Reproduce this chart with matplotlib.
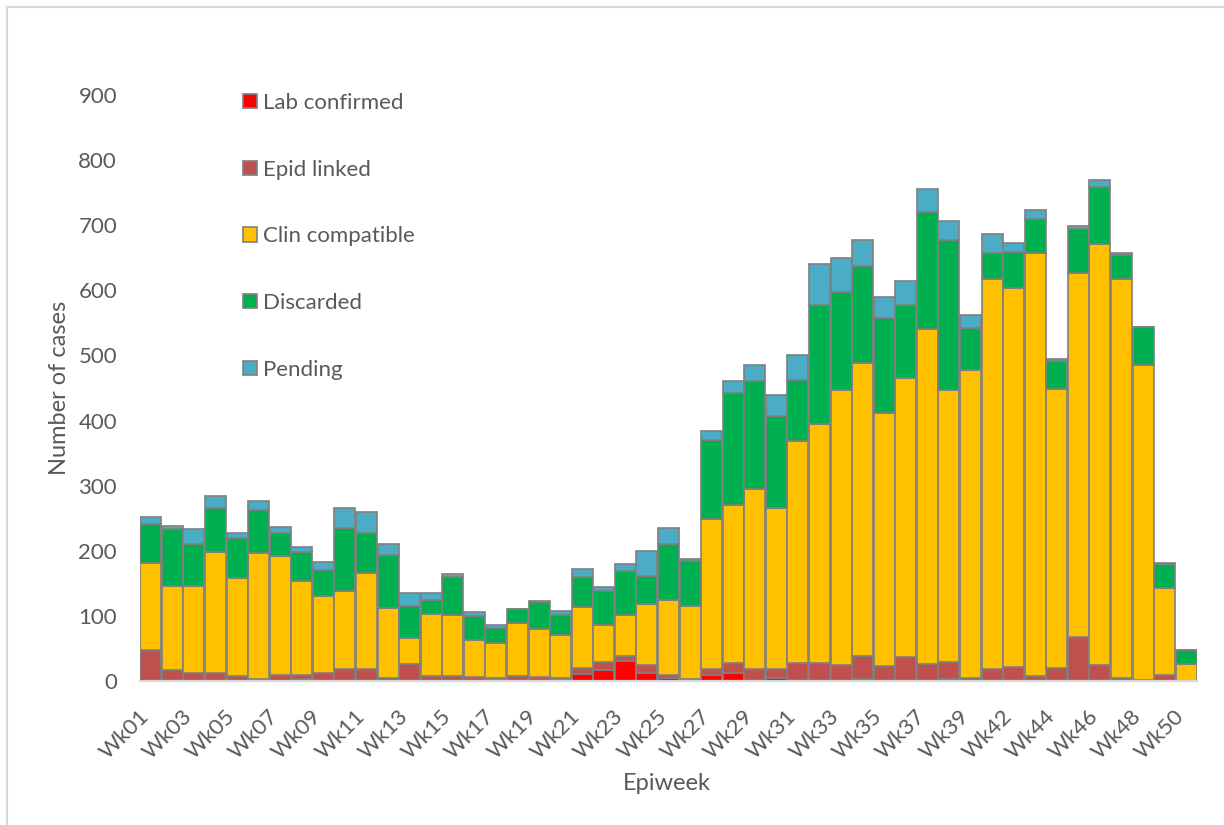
import matplotlib
matplotlib.use("Agg")
import matplotlib.pyplot as plt
import matplotlib.transforms as mtransforms
from matplotlib.patches import Patch
from matplotlib.lines import Line2D
import numpy as np

weeks = ["Wk%02d" % i for i in range(1, 40)] + ["Wk40"] + ["Wk%02d" % i for i in range(42, 51)]

lab_confirmed = [0, 0, 0, 0, 0, 0, 0, 3, 0, 0, 0, 0, 0, 0, 0, 0, 3, 0, 0, 3,
                 11, 17, 31, 12, 4, 0, 9, 13, 0, 4, 0, 0, 0, 3, 0, 0, 0, 3, 0, 0,
                 0, 0, 0, 0, 0, 0, 0, 0, 0]
epid_linked = [48, 17, 13, 12, 8, 3, 9, 6, 12, 18, 19, 5, 26, 8, 7, 6, 2, 8, 6, 1,
               9, 12, 8, 13, 5, 3, 10, 14, 19, 15, 28, 28, 24, 36, 23, 37, 26, 26, 5, 18,
               21, 7, 20, 67, 24, 5, 2, 9, 0]
clin_compatible = [133, 129, 133, 186, 150, 193, 183, 145, 118, 120, 147, 107, 40, 95, 94, 57, 53, 81, 74, 67,
                   93, 57, 62, 94, 115, 112, 230, 244, 276, 247, 340, 367, 423, 449, 389, 429, 515, 418, 472, 600,
                   582, 651, 428, 560, 647, 612, 484, 134, 26]
discarded = [60, 88, 64, 67, 62, 67, 36, 44, 41, 97, 62, 81, 49, 21, 59, 37, 24, 22, 41, 30,
             47, 52, 68, 42, 86, 69, 121, 172, 166, 141, 94, 183, 151, 149, 145, 112, 180, 231, 65, 40,
             56, 52, 43, 67, 88, 37, 58, 36, 21]
pending = [11, 4, 24, 19, 8, 14, 9, 8, 11, 30, 31, 17, 20, 11, 5, 6, 4, 0, 2, 6,
           12, 7, 11, 39, 25, 4, 14, 18, 24, 32, 38, 62, 52, 40, 33, 37, 34, 29, 20, 28,
           14, 13, 3, 5, 11, 3, 0, 2, 0]

series_names = ["Lab confirmed", "Epid linked", "Clin compatible", "Discarded", "Pending"]
series_colors = ["#FF0000", "#C0504D", "#FFC000", "#00B050", "#4BACC6"]
series_values = [lab_confirmed, epid_linked, clin_compatible, discarded, pending]

TXT = "#595959"
EDGE = "#7F7F7F"
plt.rcParams['font.family'] = ['Lato', 'DejaVu Sans']

W, H = 1224, 825
fig = plt.figure(figsize=(W / 100, H / 100), dpi=100)
ax = fig.add_axes([140 / W, 1 - 681 / H, (1197 - 140) / W, (681 - 95) / H])

x = np.arange(len(weeks))
bottom = np.zeros(len(weeks))
for name, col, vals in zip(series_names, series_colors, series_values):
    v = np.array(vals, dtype=float)
    ax.bar(x, v, width=0.97, bottom=bottom, color=col, edgecolor=EDGE,
           linewidth=1.2, label=name, zorder=3)
    bottom += v

ax.set_xlim(-0.5, len(weeks) - 0.5)
ax.set_ylim(0, 900)
ax.set_yticks(np.arange(0, 901, 100))
ax.tick_params(axis='y', length=0, pad=16.5, labelsize=16, labelcolor=TXT)
ax.set_xticks(x[::2])
ax.set_xticklabels(weeks[::2], rotation=45, ha='right', va='center',
                   rotation_mode='anchor')
ax.tick_params(axis='x', length=0, pad=23, labelsize=16, labelcolor=TXT)
offset = mtransforms.ScaledTranslation(-5 / 100, 0, fig.dpi_scale_trans)
for lbl in ax.get_xticklabels():
    lbl.set_transform(lbl.get_transform() + offset)

for s in ['top', 'right', 'left']:
    ax.spines[s].set_visible(False)
ax.spines['bottom'].set_color('#D9D9D9')
ax.spines['bottom'].set_linewidth(1.6)
ax.spines['bottom'].set_zorder(4)

handles = [Patch(facecolor=c, edgecolor=EDGE, linewidth=1.2) for c in series_colors]
leg = ax.legend(handles, series_names, loc='upper left',
                bbox_to_anchor=(243 / W, 1 - 93 / H), bbox_transform=fig.transFigure,
                frameon=False, fontsize=16, labelspacing=2.1, handlelength=0.62,
                handleheight=0.62, handletextpad=0.3, borderpad=0, borderaxespad=0)
for t in leg.get_texts():
    t.set_color(TXT)

fig.text(60 / W, 1 - 388 / H, "Number of cases", rotation=90, ha='center', va='center',
         fontsize=17, color=TXT)
fig.text(667 / W, 1 - 783 / H, "Epiweek", ha='center', va='center', fontsize=17, color=TXT)

# chart area border (top and left visible)
fig.add_artist(Line2D([7 / W, 7 / W], [0, 1 - 7 / H], transform=fig.transFigure,
                      color='#D9D9D9', linewidth=1.5))
fig.add_artist(Line2D([7 / W, 1], [1 - 7 / H, 1 - 7 / H], transform=fig.transFigure,
                      color='#D9D9D9', linewidth=1.5))

fig.savefig("out.png", dpi=100)
